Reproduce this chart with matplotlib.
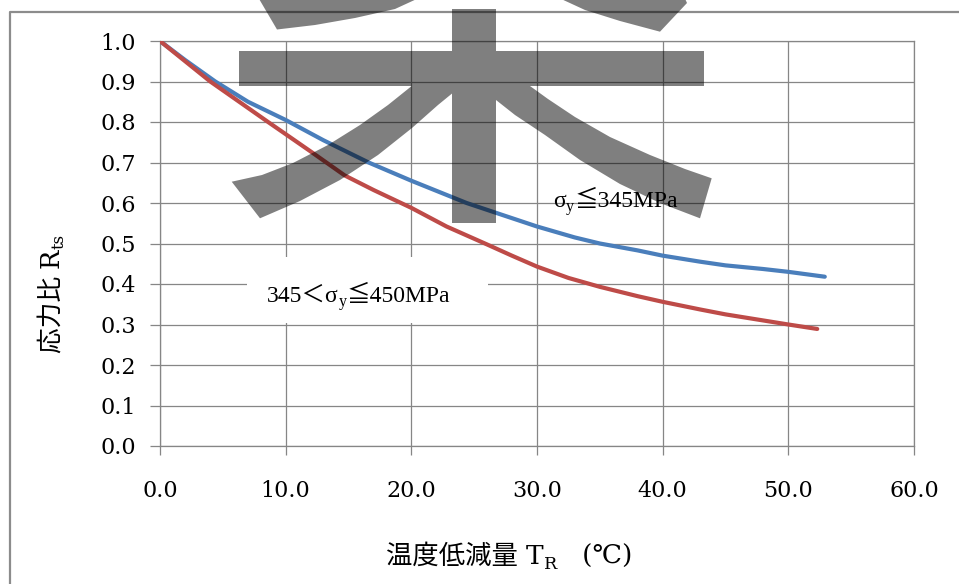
import matplotlib
matplotlib.use("Agg")
import matplotlib.pyplot as plt
from matplotlib.transforms import IdentityTransform
from matplotlib.path import Path
from matplotlib.patches import PathPatch, Rectangle
from matplotlib.lines import Line2D

# ---- data -------------------------------------------------------------
temp_low = [0, 2, 4.4, 7, 10, 13, 16.6, 20, 24.4, 27, 30, 33, 35, 38, 40, 43, 45, 48, 50, 52.9]
ratio_low = [1.0, 0.953, 0.90, 0.85, 0.805, 0.755, 0.70, 0.655, 0.60, 0.573, 0.542,
             0.515, 0.50, 0.483, 0.470, 0.455, 0.446, 0.437, 0.430, 0.418]

temp_high = [0, 2, 4, 6.3, 8.6, 10, 12, 14.7, 17, 20, 22.8, 26, 28, 30, 32.5, 35, 38, 40,
             43, 45, 48, 50, 52.3]
ratio_high = [1.0, 0.95, 0.90, 0.85, 0.80, 0.77, 0.727, 0.668, 0.632, 0.588, 0.542, 0.498,
              0.47, 0.443, 0.415, 0.393, 0.370, 0.356, 0.337, 0.325, 0.310, 0.300, 0.289]

x_ticks = [0, 10, 20, 30, 40, 50, 60]
x_tick_labels = ["0.0", "10.0", "20.0", "30.0", "40.0", "50.0", "60.0"]
y_ticks = [0.0, 0.1, 0.2, 0.3, 0.4, 0.5, 0.6, 0.7, 0.8, 0.9, 1.0]
y_tick_labels = ["0.0", "0.1", "0.2", "0.3", "0.4", "0.5", "0.6", "0.7", "0.8", "0.9", "1.0"]

# ---- figure -----------------------------------------------------------
W, H = 959, 584
fig = plt.figure(figsize=(W / 100, H / 100), dpi=100)
fig.patch.set_facecolor("white")
ax = fig.add_axes([160 / W, 1 - 446 / H, (914 - 160) / W, (446 - 41) / H])

GRID = "#868686"
SERIF = ["DejaVu Serif", "Noto Sans CJK JP"]
TIMES = ["Liberation Serif", "Noto Sans CJK JP"]

ax.plot(temp_low, ratio_low, color="#4A7EBB", lw=3.0, solid_capstyle="round", zorder=3)
ax.plot(temp_high, ratio_high, color="#BE4B48", lw=3.0, solid_capstyle="round", zorder=3)

ax.set_xlim(0, 60)
ax.set_ylim(0, 1)
ax.set_xticks(x_ticks)
ax.set_xticklabels(x_tick_labels, family=SERIF, fontsize=16)
ax.set_yticks(y_ticks)
ax.set_yticklabels(y_tick_labels, family=SERIF, fontsize=16)
ax.grid(True, color=GRID, lw=0.9)
ax.set_axisbelow(True)
ax.tick_params(axis="y", direction="out", length=7.5, width=0.9, color=GRID, pad=10)
ax.tick_params(axis="x", direction="out", length=6.5, width=0.9, color=GRID, pad=18)
for sp in ax.spines.values():
    sp.set_color(GRID)
    sp.set_linewidth(0.9)

# white box behind the lower label
ax.add_patch(Rectangle((6.9, 0.304), 19.2, 0.163, facecolor="white", edgecolor="none", zorder=2))

# outer chart-area frame
fig.add_artist(Line2D([10, 10, W + 5], [-5, H - 12, H - 12], transform=IdentityTransform(),
                      color="#8c8c8c", lw=1.6, zorder=1))

renderer = fig.canvas.get_renderer()


def text_width(s, size, fam):
    a = fig.text(0, 0, s + "|", fontsize=size, family=fam, transform=IdentityTransform())
    b = fig.text(0, 0, "|", fontsize=size, family=fam, transform=IdentityTransform())
    w = a.get_window_extent(renderer).width - b.get_window_extent(renderer).width
    a.remove()
    b.remove()
    return w


def rich_text(x, y, pieces, fam, rotation=0, ha="left", zorder=5):
    """Draw consecutive text pieces (string, size, baseline shift in pt)."""
    widths = [text_width(s, sz, fam) for s, sz, _ in pieces]
    pos = 0 if ha == "left" else -sum(widths) / 2
    for (s, sz, dy), w in zip(pieces, widths):
        d = dy * 100 / 72
        if rotation == 0:
            px, py = x + pos, y + d
        else:
            px, py = x - d, y + pos
        fig.text(px, py, s, fontsize=sz, family=fam, rotation=rotation, rotation_mode="anchor",
                 ha="left", va="baseline", transform=IdentityTransform(), zorder=zorder)
        pos += w


def to_px(x, y):
    return ax.transData.transform((x, y))


# curve labels
px, py = to_px(31.3, 0.59)
rich_text(px, py, [("σ", 17, 0), ("y", 11.5, -3), ("≦345MPa", 17, 0)], TIMES)
px, py = to_px(8.5, 0.356)
rich_text(px, py, [("345＜σ", 17, 0), ("y", 11.5, -3), ("≦450MPa", 17, 0)], TIMES)

# axis titles
rich_text(509, H - 564, [("温度低減量 ", 19, 0), ("T", 19, 0), ("R", 12.5, -3.5),
                         ("   (℃)", 19, 0)], SERIF, ha="center")
rich_text(59, H - 293.5, [("応力比 ", 18.5, 0), ("R", 18.5, 0), ("ts", 12, -3.5)], SERIF,
          rotation=90, ha="center")

# semi-transparent stamp glyph drawn across the chart
shapes = [
    [(239, 51), (704, 51), (704, 86), (239, 86)],
    [(452, 9), (496, 9), (496, 223), (452, 223)],
    [(255, -8), (277, 29.5), (315, 25), (355, 18), (395, 9), (432, -8)],
    [(546, -8), (585, 10), (620, 21), (660, 31.7), (687, 3), (682, -8)],
    [(411.7, 86), (388, 105), (360, 125), (328, 145), (293, 163), (262, 175), (231.7, 181.7),
     (260, 218.3), (300, 201), (340, 180), (378, 155), (412, 128), (438, 105), (452.3, 93.3),
     (452.3, 86)],
    [(530, 86), (548, 99), (575, 117), (610, 137), (650, 155), (685, 169), (711.7, 178.3),
     (700, 218.3), (660, 203), (620, 184), (580, 160), (545, 135), (515, 115), (496, 100),
     (496, 86)],
]
verts, codes = [], []
for poly in shapes:
    pts = [(x, H - y) for x, y in poly]
    area = sum(pts[i][0] * pts[(i + 1) % len(pts)][1] - pts[(i + 1) % len(pts)][0] * pts[i][1]
               for i in range(len(pts)))
    if area < 0:
        pts = pts[::-1]
    verts += pts + [pts[0]]
    codes += [Path.MOVETO] + [Path.LINETO] * (len(pts) - 1) + [Path.CLOSEPOLY]
fig.add_artist(PathPatch(Path(verts, codes), transform=IdentityTransform(), facecolor="black",
                         edgecolor="none", alpha=0.5, zorder=10))

fig.savefig("out.png", dpi=100, facecolor="white")
